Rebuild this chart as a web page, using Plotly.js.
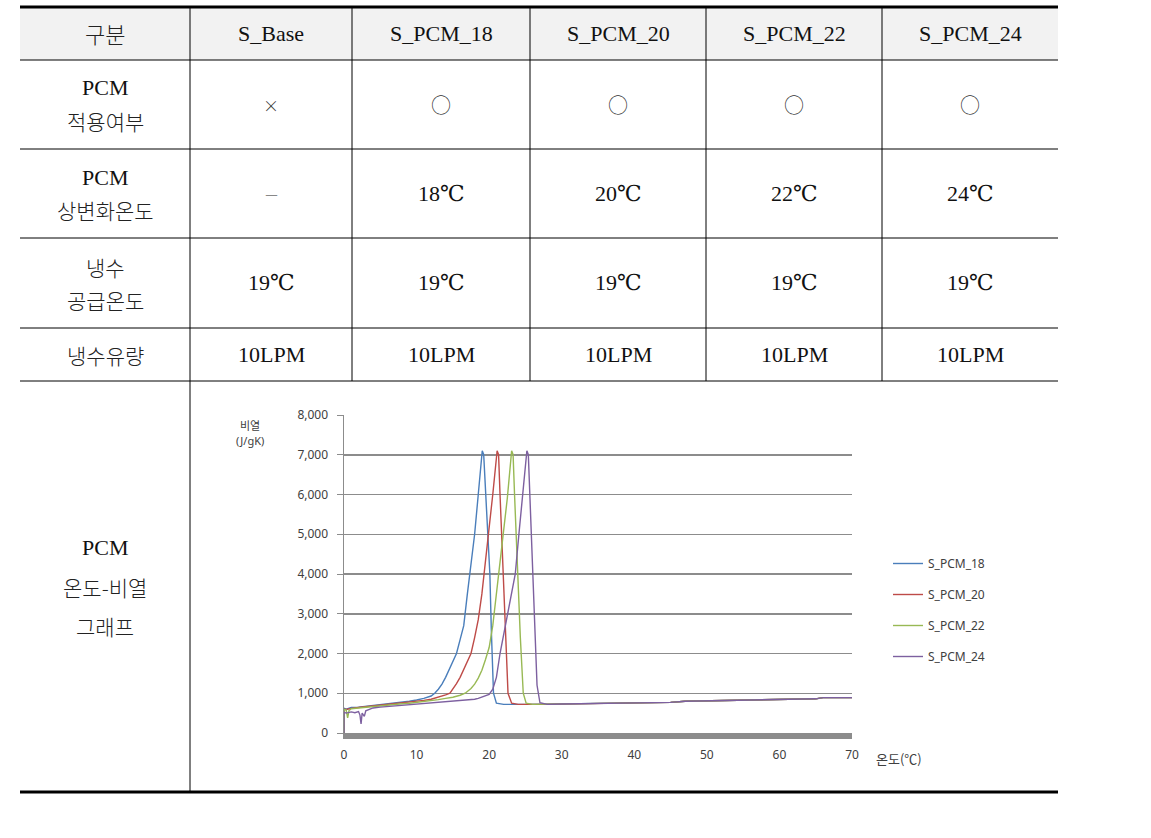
<!DOCTYPE html>
<html>
<head>
<meta charset="utf-8">
<script src="https://cdn.plot.ly/plotly-3.0.1.min.js"></script>
<style>
  html, body { margin: 0; padding: 0; background: #fff; }
  #chart { width: 1151px; height: 838px; }
</style>
</head>
<body>
<div id="chart"></div>
<script>
// table text
const headers = ['구분', 'S_Base', 'S_PCM_18', 'S_PCM_20', 'S_PCM_22', 'S_PCM_24'];
const rowLabels = [['PCM', '적용여부'], ['PCM', '상변화온도'], ['냉수', '공급온도'], ['냉수유량'], ['PCM', '온도-비열', '그래프']];
const applied = ['×', '○', '○', '○', '○'];
const phaseTemp = ['–', '18℃', '20℃', '22℃', '24℃'];
const supplyTemp = ['19℃', '19℃', '19℃', '19℃', '19℃'];
const flowRate = ['10LPM', '10LPM', '10LPM', '10LPM', '10LPM'];

// temperature (℃) vs specific heat (J/gK)
const seriesNames = ['S_PCM_18', 'S_PCM_20', 'S_PCM_22', 'S_PCM_24'];
const t18 = [0, 0, 0.3, 1, 2, 3, 4, 5, 6, 7, 8, 9, 10, 11, 12, 12.5, 13, 13.5, 14, 14.5, 15, 15.5, 16, 16.5, 17, 17.5, 18, 18.5, 19.05, 19.25, 19.5, 19.8, 20.1, 20.3, 20.6, 21, 22, 25, 30, 35, 37, 40, 45, 47, 50, 55, 57, 60, 65, 66, 70];
const cp18 = [0, 620, 600, 640, 650, 670, 690, 710, 730, 750, 770, 800, 830, 870, 930, 1000, 1100, 1230, 1400, 1600, 1780, 2000, 2350, 2700, 3500, 4200, 5000, 6000, 7100, 7000, 6000, 5000, 4000, 2600, 1000, 750, 720, 720, 730, 740, 755, 760, 770, 800, 810, 820, 845, 850, 860, 890, 890];
const t20 = [0, 0, 0.3, 1, 2, 3, 4, 5, 6, 7, 8, 9, 10, 11, 12, 13, 14, 14.6, 15, 15.5, 16, 16.5, 17, 17.5, 18, 18.5, 19, 19.5, 20, 20.5, 21.1, 21.3, 21.5, 21.7, 22, 22.3, 22.6, 23.1, 24, 27, 30, 35, 37, 40, 45, 47, 50, 55, 57, 60, 65, 66, 70];
const cp20 = [0, 600, 590, 620, 640, 660, 680, 700, 715, 730, 750, 770, 790, 820, 850, 900, 960, 1000, 1100, 1240, 1400, 1600, 1800, 2000, 2400, 2850, 3500, 4300, 5100, 6000, 7100, 7000, 6000, 5000, 3900, 2400, 1000, 750, 720, 720, 730, 740, 755, 760, 770, 800, 810, 820, 845, 850, 860, 890, 890];
const t22 = [0, 0, 0.3, 0.5, 0.7, 1, 2, 3, 4, 5, 6, 7, 8, 9, 10, 11, 12, 13, 14, 15, 16, 16.7, 17.5, 18, 18.5, 19, 19.5, 20, 20.5, 21, 21.5, 22, 22.5, 23.1, 23.3, 23.5, 23.7, 24, 24.3, 24.7, 25.1, 26, 30, 35, 37, 40, 45, 47, 50, 55, 57, 60, 65, 66, 70];
const cp22 = [0, 590, 580, 380, 570, 610, 630, 650, 670, 690, 705, 720, 735, 750, 770, 790, 810, 840, 870, 900, 950, 1000, 1120, 1230, 1380, 1580, 1850, 2150, 2700, 3500, 4200, 5000, 5900, 7100, 7000, 6000, 5000, 3800, 2400, 1000, 750, 720, 730, 740, 755, 760, 770, 800, 810, 820, 845, 850, 860, 890, 890];
const t24 = [0, 0, 0.3, 1, 1.5, 2, 2.2, 2.35, 2.5, 2.8, 3, 3.5, 4, 5, 6, 7, 8, 9, 10, 11, 12, 13, 14, 15, 16, 17, 18, 18.5, 19, 19.5, 20, 20.5, 21, 21.5, 22, 22.6, 23.1, 23.6, 24.1, 24.6, 25.2, 25.4, 25.6, 25.8, 26, 26.3, 26.6, 27, 28, 30, 35, 37, 40, 45, 47, 50, 55, 57, 60, 65, 66, 70];
const cp24 = [0, 520, 500, 530, 510, 540, 450, 230, 500, 420, 560, 600, 630, 650, 665, 680, 695, 710, 725, 740, 755, 770, 785, 800, 815, 830, 850, 870, 900, 930, 970, 1100, 1400, 2000, 2500, 3000, 3600, 4000, 5000, 6000, 7100, 7000, 6000, 5000, 4000, 2600, 1200, 760, 720, 730, 740, 755, 760, 770, 800, 810, 820, 845, 850, 860, 890, 890];
const xTicks = [0, 10, 20, 30, 40, 50, 60, 70];

const W = 1151, H = 838;
const px = x => x / W;
const py = y => 1 - y / H;

const colEdges = [20, 190, 352, 530, 706, 882, 1058];
const rowEdges = [7, 60, 149, 238, 328, 381, 792];
const serif = "'Liberation Serif', 'DejaVu Serif', 'Noto Sans CJK KR', serif";
const korean = "'Noto Sans CJK KR', sans-serif";
const chartFont = "'Noto Sans', 'Noto Sans CJK KR', sans-serif";

const colors = ['#4a7ebb', '#be4b48', '#98b954', '#7d60a0'];
const xs = [t18, t20, t22, t24];
const ys = [cp18, cp20, cp22, cp24];

const traces = seriesNames.map((name, i) => ({
  x: xs[i], y: ys[i], type: 'scatter', mode: 'lines', name: name,
  legendgroup: name,
  line: { color: colors[i], width: 1.4 }
}));

// table lines
const shapes = [];
shapes.push({ type: 'rect', xref: 'paper', yref: 'paper', x0: px(20), x1: px(1058), y0: py(8), y1: py(60),
  fillcolor: '#f2f2f2', line: { width: 0 }, layer: 'below' });
for (let r = 1; r < rowEdges.length - 1; r++) {
  shapes.push({ type: 'line', xref: 'paper', yref: 'paper', x0: px(20), x1: px(1058), y0: py(rowEdges[r]), y1: py(rowEdges[r]),
    line: { color: '#000', width: 1 } });
}
[rowEdges[0], rowEdges[rowEdges.length - 1]].forEach(y => {
  shapes.push({ type: 'line', xref: 'paper', yref: 'paper', x0: px(20), x1: px(1058), y0: py(y), y1: py(y),
    line: { color: '#000', width: 3 } });
});
for (let c = 1; c < colEdges.length - 1; c++) {
  const bottom = c === 1 ? rowEdges[6] : rowEdges[5];
  shapes.push({ type: 'line', xref: 'paper', yref: 'paper', x0: px(colEdges[c]), x1: px(colEdges[c]), y0: py(rowEdges[0]), y1: py(bottom),
    line: { color: '#000', width: 1 } });
}

const annotations = [];
function cell(text, x, y, font, size, color, weight) {
  annotations.push({ text: text, xref: 'paper', yref: 'paper', x: px(x), y: py(y), xanchor: 'center', yanchor: 'middle',
    showarrow: false, font: { family: font, size: size, color: color || '#111', weight: weight || 'normal' } });
}
const colMid = c => (colEdges[c] + colEdges[c + 1]) / 2;
const rowMid = r => (rowEdges[r] + rowEdges[r + 1]) / 2;
const isLatin = s => /[A-Z]/.test(s);

headers.forEach((h, c) => c === 0 ? cell(h, colMid(c), rowMid(0), korean, 22, '#222', 300) : cell(h, colMid(c), rowMid(0), serif, 22));

const lineGap = [33, 33, 33, 0, 39];
rowLabels.forEach((lines, r) => {
  const mid = rowMid(r + 1);
  lines.forEach((txt, k) => {
    const y = mid + (k - (lines.length - 1) / 2) * lineGap[r];
    if (isLatin(txt)) cell(txt, colMid(0), y, serif, 22);
    else cell(txt, colMid(0), y, korean, 21, '#222', 300);
  });
});
applied.forEach((v, c) => cell(v, colMid(c + 1), rowMid(1), korean, v === '×' ? 16 : 20, '#333', 300));
phaseTemp.forEach((v, c) => cell(v, colMid(c + 1), rowMid(2), serif, 22, v === '–' ? '#888' : '#111'));
supplyTemp.forEach((v, c) => cell(v, colMid(c + 1), rowMid(3), serif, 22));
flowRate.forEach((v, c) => cell(v, colMid(c + 1), rowMid(4), serif, 22));

// chart axis titles
cell('비열', 250, 425, korean, 11, '#404040');
cell('(J/gK)', 250, 440, chartFont, 11, '#404040');
cell('온도(℃)', 899, 758, korean, 13, '#404040');

const layout = {
  width: W, height: H,
  margin: { l: 0, r: 0, t: 0, b: 0 },
  paper_bgcolor: '#fff', plot_bgcolor: 'rgba(0,0,0,0)',
  showlegend: true,
  legend: {
    x: px(888), y: py(549), xanchor: 'left', yanchor: 'top',
    font: { family: chartFont, size: 12, color: '#404040' },
    tracegroupgap: 12, bgcolor: 'rgba(0,0,0,0)'
  },
  xaxis: {
    domain: [px(344), px(852)], range: [0, 70],
    tickvals: xTicks, showgrid: false, zeroline: false,
    showline: true, linecolor: '#8c8c8c', linewidth: 6,
    ticks: '', ticklabelstandoff: 6,
    tickfont: { family: chartFont, size: 12, color: '#404040' }
  },
  yaxis: {
    domain: [py(733), py(415)], range: [0, 8000], dtick: 1000, tickformat: ',',
    showgrid: true, gridcolor: '#8c8c8c', gridwidth: 1.5, zeroline: false,
    showline: true, linecolor: '#8c8c8c', linewidth: 1.5,
    ticks: 'outside', ticklen: 6, tickcolor: '#8c8c8c', ticklabelstandoff: 6,
    tickfont: { family: chartFont, size: 12, color: '#404040' }
  },
  shapes: shapes,
  annotations: annotations
};

Plotly.newPlot('chart', traces, layout, { staticPlot: true });
</script>
</body>
</html>
